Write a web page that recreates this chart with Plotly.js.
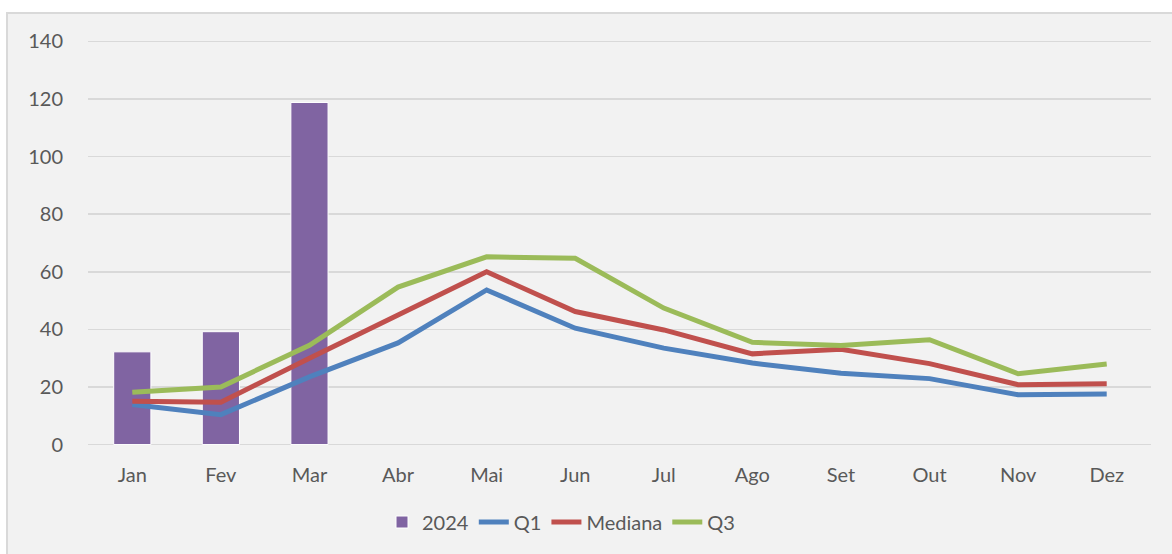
<!DOCTYPE html>
<html>
<head>
<meta charset="utf-8">
<script src="https://cdn.plot.ly/plotly-3.0.1.min.js"></script>
<style>
html,body{margin:0;padding:0;background:#ffffff;}
#chart{width:1172px;height:554px;}
</style>
</head>
<body>
<div id="chart"></div>
<script>
var months = ["Jan","Fev","Mar","Abr","Mai","Jun","Jul","Ago","Set","Out","Nov","Dez"];
var months2024 = ["Jan","Fev","Mar"];
var values2024 = [32.2, 39.2, 118.8];
var q1 = [13.9, 10.4, 23.5, 35.3, 53.7, 40.4, 33.5, 28.3, 24.8, 22.9, 17.3, 17.6];
var mediana = [15.0, 14.7, 30.0, 45.0, 60.0, 46.2, 39.8, 31.5, 33.1, 28.1, 20.8, 21.1];
var q3 = [18.2, 20.0, 34.5, 54.7, 65.2, 64.7, 47.4, 35.5, 34.4, 36.4, 24.6, 28.0];
var yTicks = [0, 20, 40, 60, 80, 100, 120, 140];

var W = 1172, H = 554;
var mL = 88, mR = 21, mT = 40, mB = 108;
var pw = W - mL - mR, ph = H - mT - mB;
function px(x){ return (x - mL) / pw; }
function py(y){ return (H - mB - y) / ph; }

var textColor = "#595959";
var fontFam = "Lato, 'Open Sans', 'DejaVu Sans', sans-serif";
var fs = 20;

var traces = [
  {type:"bar", name:"2024", x:months2024, y:values2024,
   marker:{color:"#8064a2", line:{color:"#ffffff", width:1}}, hoverinfo:"x+y"},
  {type:"scatter", mode:"lines", name:"Q1", x:months, y:q1,
   line:{color:"#4f81bd", width:5}},
  {type:"scatter", mode:"lines", name:"Mediana", x:months, y:mediana,
   line:{color:"#c0504d", width:5}},
  {type:"scatter", mode:"lines", name:"Q3", x:months, y:q3,
   line:{color:"#9bbb59", width:5}}
];

var layout = {
  width: W, height: H,
  margin:{l:mL, r:mR, t:mT, b:mB, pad:0},
  paper_bgcolor:"#ffffff",
  plot_bgcolor:"rgba(0,0,0,0)",
  font:{family:fontFam, size:fs, color:textColor},
  bargap:0.58,
  showlegend:true,
  legend:{orientation:"h", x:px(561), xanchor:"center", y:py(522), yanchor:"middle",
          font:{family:fontFam, size:fs, color:textColor}, bgcolor:"rgba(0,0,0,0)",
          traceorder:"normal", itemwidth:30},
  xaxis:{type:"category", categoryarray:months, categoryorder:"array",
         range:[-0.5, 11.5], showgrid:false, zeroline:false, showline:false,
         ticks:"", ticklabelstandoff:15, tickfont:{size:fs, color:textColor, family:fontFam},
         fixedrange:true},
  yaxis:{range:[-0.5, 140.5], tickvals:yTicks, showgrid:true, gridcolor:"#d9d9d9", gridwidth:1.5,
         zeroline:false, showline:false, ticks:"", ticklabelstandoff:24,
         tickfont:{size:fs, color:textColor, family:fontFam}, fixedrange:true},
  shapes:[
    {type:"rect", xref:"paper", yref:"paper", layer:"below",
     x0:px(7), x1:px(1180), y0:py(13), y1:py(565),
     fillcolor:"#f2f2f2", line:{color:"#d9d9d9", width:2}}
  ]
};

Plotly.newPlot("chart", traces, layout, {displayModeBar:false, staticPlot:true});
</script>
</body>
</html>
